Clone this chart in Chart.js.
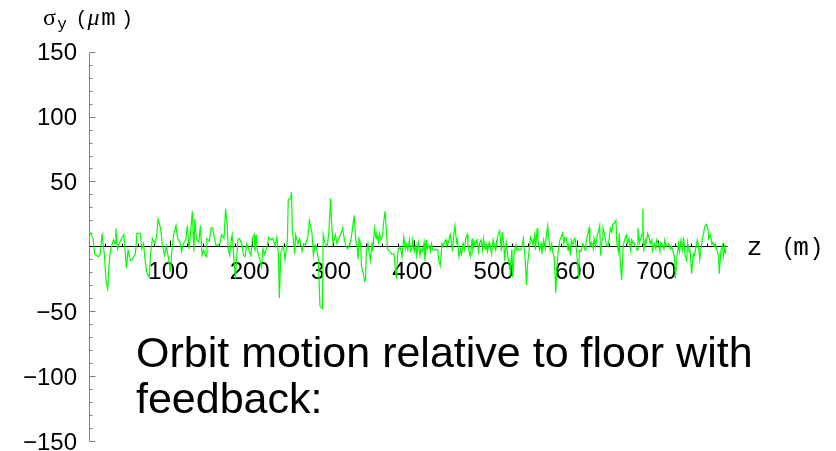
<!DOCTYPE html>
<html lang="en">
<head>
<meta charset="UTF-8">
<title>Orbit motion relative to floor with feedback</title>
<script src="https://cdn.jsdelivr.net/npm/chart.js"></script>
<style>
    html, body { margin: 0; padding: 0; background: #fff; }
    .chart-box { position: relative; width: 836px; height: 451px; }
</style>
</head>
<body>
<div class="chart-box"><canvas id="orbit"></canvas></div>
<script>
    // position along the beamline (m) and vertical orbit offset sigma_y (um)
    const zMetres = [
        0, 5, 7, 11, 14, 16, 19, 21, 23, 25, 27, 30, 32, 33, 35, 37, 40, 43, 46, 48,
        51, 53, 57, 59, 63, 65, 67, 69, 71, 74, 76, 78, 81, 83, 85, 88, 90, 93, 95, 98,
        100, 102, 104, 107, 109, 112, 114, 116, 119, 121, 123, 125, 127, 129, 130, 132, 135, 137, 139, 141,
        144, 145, 148, 150, 152,
        156, 158, 161, 163, 166, 168, 170, 171, 173, 175, 176, 178, 180, 181, 183, 185, 188, 190, 192, 194,
        197, 199, 201, 203, 204, 206, 207, 210, 212, 214, 216, 219, 221, 224, 226, 229, 231, 233, 234, 236,
        239, 241, 244, 245, 248, 249, 250, 253, 254, 257, 259, 262, 264, 266, 269, 271, 274, 276, 278, 280,
        282, 284, 287, 288, 290, 293, 295, 297, 298, 300, 303, 305, 307, 310, 312,
        314, 316, 318, 321, 323, 325, 326, 328, 330, 331, 332, 334, 335, 337, 339, 340, 341, 343, 344, 346,
        348, 349, 351, 353, 354, 356, 357, 359, 361, 362, 364, 366, 367, 370, 372, 375, 376, 378, 379, 380,
        382, 384, 385, 387, 389, 390, 392, 394, 395, 397, 398, 400, 402, 403, 405, 407, 408, 410, 412, 413,
        415, 416, 418, 420, 421, 423, 425, 426, 429, 430, 432, 434, 435, 437, 439, 440, 442, 444, 445, 447,
        448, 450, 452, 453, 455, 457, 458, 460, 462, 463, 465, 466, 468,
        469, 471, 472, 474, 475, 477, 479, 480, 482, 484, 485, 487, 488, 490, 492, 493, 495, 497, 498, 500,
        502, 503, 505, 507, 508, 510, 511, 513, 515, 516, 518, 520, 521, 523, 525, 526, 528, 529, 531, 533,
        534, 536, 538, 539, 541, 543, 544, 546, 548, 549, 551, 552, 554, 556, 557, 559, 561, 562, 564, 566,
        567, 569, 570, 572, 574, 575, 577, 579, 580, 582, 584, 585, 587, 589, 590, 592, 593, 595, 597, 598,
        600, 602, 603, 605, 607, 608, 610, 611, 613, 615, 616, 618, 620, 621, 623, 625, 626,
        628, 629, 631, 632, 634, 636, 638, 639, 641, 643, 644, 646, 648, 649, 651, 652, 653, 655, 656, 657,
        659, 661, 662, 664, 666, 667, 669, 670, 672, 674, 675, 677, 679, 680, 681, 682, 684, 685, 687, 689,
        690, 692, 693, 695, 697, 698, 700, 702, 703, 705, 707, 708, 710, 711, 713, 715, 716, 718, 720, 721,
        723, 725, 726, 728, 730, 731, 733, 735, 736, 738, 739, 741, 743, 744, 746, 748, 749, 751, 752, 754,
        756, 757, 759, 761, 762, 764, 766, 767, 769, 770, 772, 774, 775, 777, 779, 780, 782, 783
    ];
    const sigmaY = [
        12, 6, -6, -8, -6, 10, -7, -27, -33, -10, -2, 5, 2, 14, -2, 2, 6, 9, -17, -3,
        -11, -10, -6, 10, 10, -2, 2, -11, -20, -24, -4, 6, 2, 7, 21, 14, 2, -7, 0, -10,
        -20, -3, 9, 16, 6, 3, -4, 2, 5, 16, -2, 11, 27, -4, 21, 6, 3, 16, -7, -3,
        -8, 6, 4, 14, 14,
        1, 1, 2, 9, 6, 29, 16, -2, -7, 6, 9, -8, -25, -15, 5, 6, 2, -7, -8, 2,
        -3, -7, 6, 9, -4, 9, -3, -10, -16, -2, -6, 0, 7, 5, 6, 0, 7, -7, -40, -4,
        0, -10, 5, 36, 37, 42, 12, -6, 9, 2, 6, -4, 2, 1, 7, 20, 11, -7, 1, -2,
        -10, -46, -48, 9, 3, 0, 11, 37, 21, 2, 9, 2, 6, 10, 14,
        5, 0, -2, 2, 9, 19, 24, 5, -3, -10, 6, 2, -15, -20, -27, -26, -4, 2, -3, -11,
        3, -4, 14, 6, 9, 3, 10, 5, 9, 17, 27, 9, -2, -4, -6, -6, -13, -25, -12, -3,
        0, -4, -8, 7, -2, 2, -3, 5, -4, -2, 5, -4, 1, -7, 3, -7, -2, -4, 3, -11,
        5, -2, 1, -4, 2, -3, -3, -2, -3, -11, -15, 2, 0, 3, 5, 0, 3, 9, 6, -4,
        6, 16, 3, 5, -8, -2, -6, 2, -3, 6, 9, 2, -6,
        -8, 6, -3, 3, 1, 5, -4, 2, 5, -3, 6, -2, 3, -4, 3, 1, -6, 5, 2, -3,
        6, 9, 12, -4, 11, 2, -11, 3, -8, -12, -20, -2, -24, -4, 1, -3, -2, -3, -3, 2,
        6, -7, -30, -16, -4, 7, 6, 1, 9, -3, 14, 5, -3, 2, -6, 5, -2, 6, 16, 3,
        -3, 2, -4, -8, -36, -19, -4, 5, 6, 10, 2, 7, 6, -3, 3, -7, 5, 1, 6, 5,
        -7, -25, -3, -4, 2, 1, -3, 2, 9, 14, 0, 3, -2, 6, 0, 9, 10,
        16, -7, 6, 14, 9, 2, 0, 3, 14, 11, 17, 18, 20, 3, -4, 10, -10, -26, -11, 1,
        6, 9, 2, 6, -3, 5, 2, 3, 0, -3, 14, 3, 7, 9, 29, -4, 5, 2, 10, 6,
        2, 5, -3, 2, -2, 5, 2, -4, 3, 1, -2, 5, 0, 1, 2, -2, 0, -4, -8, -25,
        -8, 2, -4, 5, -3, 7, -7, -11, 3, -4, -3, -21, -6, -8, -2, 5, 2, -10, -4, 5,
        11, 15, 17, 14, 6, 9, 2, 3, 0, 2, -3, -7, -21, -3, 1, -8, 0, -6
    ];

    const xTickValues = [100, 200, 300, 400, 500, 600, 700];
    const yTickValues = [150, 100, 50, -50, -100, -150];
    const xMinorStep = 20;
    const yMinorStep = 10;

    const points = zMetres.map((z, i) => ({ x: z, y: sigmaY[i] }));

    const tickFont = '24px "Liberation Sans", Arial, sans-serif';
    const monoFont = '"Liberation Mono", "Courier New", monospace';
    const serifFont = '"Liberation Serif", "Times New Roman", serif';

    function fmt(v) {
        return v < 0 ? '\u2212' + Math.abs(v) : String(v);
    }

    // draws one glyph centred on cx
    function glyph(ctx, text, font, cx, baseline) {
        ctx.font = font;
        ctx.fillText(text, cx, baseline);
    }

    // Mathematica style axes crossing at the origin, drawn under the trace
    const originAxes = {
        id: 'originAxes',
        beforeDatasetsDraw(chart) {
            const { ctx, scales } = chart;
            const xs = scales.x, ys = scales.y;
            const ax = Math.round(xs.getPixelForValue(0)) + 0.5;
            const ay = Math.round(ys.getPixelForValue(0)) + 0.5;
            ctx.save();

            // vertical axis
            ctx.strokeStyle = '#808080';
            ctx.lineWidth = 1;
            ctx.beginPath();
            const yTop = Math.round(ys.getPixelForValue(ys.max)) + 0.5;
            const yBot = Math.round(ys.getPixelForValue(ys.min)) + 0.5;
            ctx.moveTo(ax, yTop);
            ctx.lineTo(ax, yBot);
            for (let v = ys.min; v <= ys.max; v += yMinorStep) {
                const py = Math.round(ys.getPixelForValue(v)) + 0.5;
                const len = v % 50 === 0 ? 6 : 3;
                ctx.moveTo(ax, py);
                ctx.lineTo(ax + len, py);
            }
            ctx.stroke();

            ctx.fillStyle = '#000';
            ctx.font = tickFont;
            ctx.textAlign = 'right';
            ctx.textBaseline = 'alphabetic';
            yTickValues.forEach(v => {
                ctx.fillText(fmt(v), 77, ys.getPixelForValue(v) + 8.5);
            });

            // horizontal axis
            ctx.strokeStyle = '#000';
            ctx.beginPath();
            ctx.moveTo(ax, ay);
            ctx.lineTo(Math.round(xs.getPixelForValue(xs.max)) + 0.5, ay);
            for (let v = xMinorStep; v < xs.max; v += xMinorStep) {
                const px = Math.round(xs.getPixelForValue(v)) + 0.5;
                const len = v % 100 === 0 ? 6 : 3;
                ctx.moveTo(px, ay);
                ctx.lineTo(px, ay - len);
            }
            ctx.stroke();

            ctx.textAlign = 'center';
            xTickValues.forEach(v => {
                ctx.fillText(fmt(v), xs.getPixelForValue(v) - 2, ay + 32);
            });

            // axis titles, set glyph by glyph
            glyph(ctx, 'z', '26px ' + monoFont, 754.5, 255);
            glyph(ctx, '(', '23px ' + monoFont, 788.5, 255);
            glyph(ctx, 'm', '26px ' + monoFont, 801, 255);
            glyph(ctx, ')', '23px ' + monoFont, 816.5, 255);

            glyph(ctx, '\u03c3', '24px ' + serifFont, 49.5, 25);
            glyph(ctx, 'y', '16px ' + monoFont, 62, 28.5);
            glyph(ctx, '(', '20px ' + monoFont, 81.5, 25);
            glyph(ctx, '\u03bc', 'italic 24px ' + serifFont, 93.5, 25);
            glyph(ctx, 'm', '24px ' + monoFont, 108.5, 25);
            glyph(ctx, ')', '20px ' + monoFont, 127, 25);

            ctx.restore();
        },
        afterDraw(chart) {
            const ctx = chart.ctx;
            ctx.save();
            ctx.fillStyle = '#000';
            ctx.font = '43px "Liberation Sans", Arial, sans-serif';
            ctx.textAlign = 'left';
            ctx.textBaseline = 'alphabetic';
            ctx.fillText('Orbit motion relative to floor with', 136, 367);
            ctx.fillText('feedback:', 136, 413);
            ctx.restore();
        }
    };

    new Chart(document.getElementById('orbit'), {
        type: 'line',
        data: {
            datasets: [{
                data: points,
                borderColor: '#00ff00',
                borderWidth: 1.2,
                pointRadius: 0,
                fill: false,
                tension: 0
            }]
        },
        options: {
            responsive: true,
            maintainAspectRatio: false,
            animation: false,
            events: [],
            layout: {
                padding: { left: 89, right: 109.4, top: 51.7, bottom: 10 }
            },
            scales: {
                x: { type: 'linear', min: 0, max: 784, display: false },
                y: { type: 'linear', min: -150, max: 150, display: false }
            },
            plugins: {
                legend: { display: false },
                tooltip: { enabled: false }
            }
        },
        plugins: [originAxes]
    });
</script>
</body>
</html>
